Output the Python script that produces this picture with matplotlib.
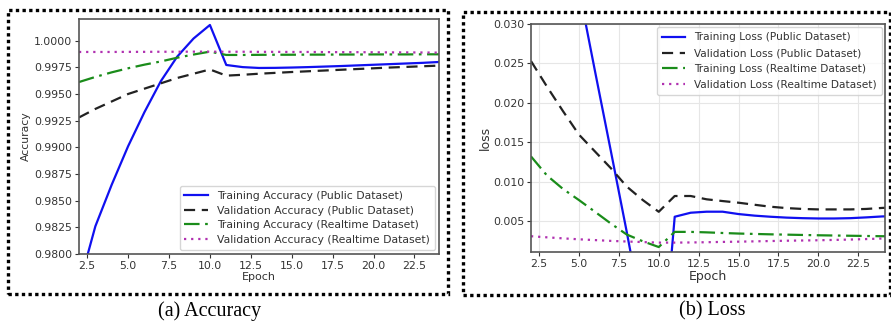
import matplotlib
matplotlib.use("Agg")
import matplotlib.pyplot as plt
from matplotlib.patches import Rectangle
from matplotlib.ticker import FormatStrFormatter

epochs = list(range(2, 26))

# Accuracy panel
train_acc_public = [0.9770, 0.9826, 0.9865, 0.9901, 0.9933, 0.9962, 0.9985, 1.0002, 1.00147,
                    0.99772, 0.99752, 0.99744, 0.99745, 0.99748, 0.99752, 0.99757, 0.99762,
                    0.99768, 0.99774, 0.99780, 0.99786, 0.99792, 0.99800, 0.99806]
val_acc_public = [0.9928, 0.9936, 0.9943, 0.9950, 0.9955, 0.9960, 0.9965, 0.9969, 0.9973,
                  0.99672, 0.99680, 0.99690, 0.99698, 0.99706, 0.99713, 0.99720, 0.99727,
                  0.99734, 0.99741, 0.99748, 0.99754, 0.99760, 0.99766, 0.99770]
train_acc_realtime = [0.99612, 0.99660, 0.99703, 0.99741, 0.99775, 0.99805, 0.99840, 0.99870,
                      0.99897, 0.99866, 0.99866, 0.99867, 0.99868, 0.99868, 0.99869, 0.99869,
                      0.99870, 0.99870, 0.99871, 0.99871, 0.99871, 0.99872, 0.99872, 0.99872]
val_acc_realtime = [0.99894, 0.99894, 0.99894, 0.99895, 0.99895, 0.99896, 0.99896, 0.99897,
                    0.99897, 0.99896, 0.99896, 0.99895, 0.99895, 0.99894, 0.99894, 0.99893,
                    0.99892, 0.99892, 0.99891, 0.99890, 0.99890, 0.99889, 0.99888, 0.99888]

# Loss panel
train_loss_public = [0.070, 0.055, 0.0447, 0.03445, 0.0241, 0.0139, 0.0036, -0.0072, -0.0181,
                     0.00556, 0.00607, 0.00620, 0.00620, 0.00590, 0.00570, 0.00556, 0.00545,
                     0.00538, 0.00534, 0.00534, 0.00538, 0.00548, 0.00560, 0.00564]
val_loss_public = [0.0253, 0.02206, 0.01896, 0.01598, 0.01385, 0.01172, 0.00938, 0.00768,
                   0.00619, 0.00819, 0.00819, 0.00777, 0.00755, 0.00734, 0.00708, 0.00683,
                   0.00666, 0.00655, 0.00649, 0.00649, 0.00649, 0.00655, 0.00668, 0.00675]
train_loss_realtime = [0.01321, 0.01079, 0.00909, 0.00768, 0.00620, 0.00470, 0.00330, 0.00245,
                       0.00172, 0.00364, 0.00364, 0.00358, 0.00350, 0.00343, 0.00338, 0.00333,
                       0.00329, 0.00325, 0.00321, 0.00318, 0.00315, 0.00312, 0.00309, 0.00308]
val_loss_realtime = [0.00309, 0.00295, 0.00282, 0.00270, 0.00260, 0.00250, 0.00242, 0.00235,
                     0.00228, 0.00228, 0.00230, 0.00233, 0.00237, 0.00240, 0.00244, 0.00248,
                     0.00252, 0.00255, 0.00258, 0.00262, 0.00267, 0.00273, 0.00280, 0.00282]

acc_labels = ["Training Accuracy (Public Dataset)", "Validation Accuracy (Public Dataset)",
              "Training Accuracy (Realtime Dataset)", "Validation Accuracy (Realtime Dataset)"]
loss_labels = ["Training Loss (Public Dataset)", "Validation Loss (Public Dataset)",
               "Training Loss (Realtime Dataset)", "Validation Loss (Realtime Dataset)"]

styles = [dict(color="#1010f0", ls="-"), dict(color="#222222", ls=(0, (5, 3))),
          dict(color="#1a8c1a", ls=(0, (7, 2.5, 1.2, 2.5))), dict(color="#b030b0", ls=(0, (1, 2.2)))]

txt = "#333333"
plt.rcParams["font.family"] = "DejaVu Sans"

fig = plt.figure(figsize=(8.91, 3.31), dpi=100)
ax1 = fig.add_axes([79 / 891, 1 - 254 / 331, 360 / 891, 235 / 331])
ax2 = fig.add_axes([531 / 891, 1 - 252 / 331, 354 / 891, 228 / 331])

for data, lab, st in zip([train_acc_public, val_acc_public, train_acc_realtime, val_acc_realtime],
                         acc_labels, styles):
    ax1.plot(epochs, data, label=lab, lw=1.6, **st)
ax1.set_xlim(2, 24)
ax1.set_ylim(0.98, 1.00203)
ax1.set_yticks([0.98 + 0.0025 * i for i in range(9)])
ax1.yaxis.set_major_formatter(FormatStrFormatter("%.4f"))
ax1.set_xticks([2.5, 5, 7.5, 10, 12.5, 15, 17.5, 20, 22.5])
ax1.xaxis.set_major_formatter(FormatStrFormatter("%.1f"))
ax1.set_xlabel("Epoch", fontsize=8, color=txt, labelpad=1)
ax1.set_ylabel("Accuracy", fontsize=7.8, color=txt, labelpad=2)
leg1 = ax1.legend(loc="lower right", fontsize=7.8, frameon=True, borderpad=0.45,
                  labelspacing=0.42, handlelength=2.2, borderaxespad=0.4)
for t in leg1.get_texts():
    t.set_color(txt)

for data, lab, st in zip([train_loss_public, val_loss_public, train_loss_realtime, val_loss_realtime],
                         loss_labels, styles):
    ax2.plot(epochs, data, label=lab, lw=1.6, **st)
ax2.set_xlim(2, 24.17)
ax2.set_ylim(0.00109, 0.030)
ax2.set_yticks([0.005, 0.010, 0.015, 0.020, 0.025, 0.030])
ax2.yaxis.set_major_formatter(FormatStrFormatter("%.3f"))
ax2.set_xticks([2.5, 5, 7.5, 10, 12.5, 15, 17.5, 20, 22.5])
ax2.xaxis.set_major_formatter(FormatStrFormatter("%.1f"))
ax2.grid(True, color="#e6e6e6", lw=0.8)
ax2.set_axisbelow(True)
ax2.set_xlabel("Epoch", fontsize=9, color=txt, labelpad=1)
ax2.set_ylabel("loss", fontsize=9, color=txt, labelpad=1)
leg2 = ax2.legend(loc="upper right", fontsize=7.6, frameon=True, borderpad=0.5,
                  labelspacing=0.55, handlelength=2.2, borderaxespad=0.3)
for t in leg2.get_texts():
    t.set_color(txt)

for ax in (ax1, ax2):
    ax.tick_params(labelsize=7.8, colors=txt, length=3, pad=2)
    for s in ax.spines.values():
        s.set_color("#555555")
        s.set_linewidth(1.2)

# dotted frames around each panel
fig.patches.append(Rectangle((8 / 891, 1 - 294 / 331), 440 / 891, 284 / 331, transform=fig.transFigure,
                             fill=False, ls=(0, (1, 1)), lw=2.4, ec="black"))
fig.patches.append(Rectangle((463 / 891, 1 - 295 / 331), 427 / 891, 283 / 331, transform=fig.transFigure,
                             fill=False, ls=(0, (1, 1)), lw=2.4, ec="black"))

fig.text(210 / 891, 1 - 311 / 331, "(a) Accuracy", ha="center", va="center",
         fontsize=14.5, family="Liberation Serif", color="black")
fig.text(712 / 891, 1 - 311 / 331, "(b) Loss", ha="center", va="center",
         fontsize=14.5, family="Liberation Serif", color="black")

fig.savefig("out.png", dpi=100)
